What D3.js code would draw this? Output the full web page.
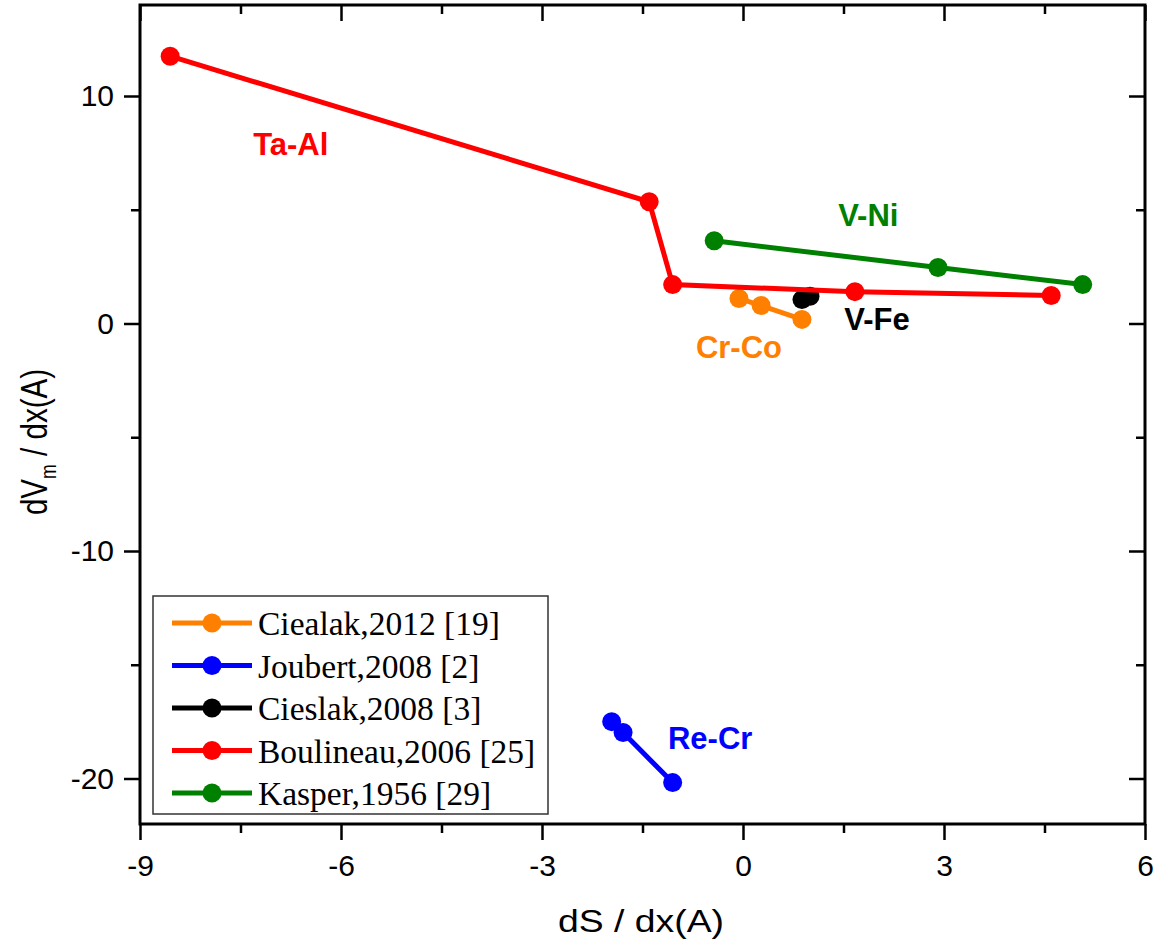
<!DOCTYPE html>
<html>
<head>
<meta charset="utf-8">
<script src="https://cdn.jsdelivr.net/npm/d3@7"></script>
<style>
	body { margin: 0; background: #fff; }
	svg { display: block; }
	.tick text { font-family: "Liberation Sans", Arial, sans-serif; }
</style>
</head>
<body>
<svg id="chart" width="1163" height="944"></svg>
<script>
// data
var ciealakX = [-0.06, 0.27, 0.88];
var ciealakY = [1.10, 0.79, 0.18];
var joubertX = [-1.96, -1.79, -1.05];
var joubertY = [-17.5, -17.98, -20.18];
var cieslakX = [0.88, 1.0];
var cieslakY = [1.05, 1.2];
var boulineauX = [-8.55, -1.40, -1.05, 1.67, 4.6];
var boulineauY = [11.75, 5.35, 1.71, 1.40, 1.23];
var kasperX = [-0.43, 2.91, 5.07];
var kasperY = [3.64, 2.46, 1.71];

var xTicks = [-9, -6, -3, 0, 3, 6];
var yTicks = [-20, -10, 0, 10];
var xMinor = [-7.5, -4.5, -1.5, 1.5, 4.5];
var yMinor = [-15, -5, 5];

var series = [
	{ name: "Ciealak,2012 [19]", color: "#ff8000", x: ciealakX, y: ciealakY },
	{ name: "Joubert,2008 [2]", color: "#0000ff", x: joubertX, y: joubertY },
	{ name: "Cieslak,2008 [3]", color: "#000000", x: cieslakX, y: cieslakY },
	{ name: "Boulineau,2006 [25]", color: "#ff0000", x: boulineauX, y: boulineauY },
	{ name: "Kasper,1956 [29]", color: "#008000", x: kasperX, y: kasperY }
];

// alloy labels next to the curves (x centre, y baseline)
var labels = [
	{ text: "Ta-Al", color: "#ff0000", x: -6.75, y: 7.41 },
	{ text: "V-Ni", color: "#008000", x: 1.87, y: 4.29 },
	{ text: "V-Fe", color: "#000000", x: 2.0, y: -0.29 },
	{ text: "Cr-Co", color: "#ff8000", x: -0.06, y: -1.52 },
	{ text: "Re-Cr", color: "#0000ff", x: -0.49, y: -18.7 }
];

var margin = {top: 5, left: 140},
	width = 1005,
	height = 819;

var svg = d3.select("#chart");
var g = svg.append("g").attr("transform", "translate(" + margin.left + "," + margin.top + ")");

var x = d3.scaleLinear().domain([-9, 6]).range([0, width]);
var y = d3.scaleLinear().domain([-22, 14]).range([height, 0]);

// plain hyphen for negatives, like the original
var fmt = function(d) { return String(d); };

// axes: outward ticks bottom/left, inward ticks top/right
function styleAxis(sel) {
	sel.select(".domain").remove();
	sel.selectAll(".tick line").attr("stroke", "#000").attr("stroke-width", 2.5);
	sel.selectAll(".tick text").attr("font-size", 30).attr("fill", "#000");
}
g.append("g").attr("transform", "translate(0," + height + ")")
	.call(d3.axisBottom(x).tickValues(xTicks).tickSize(16).tickPadding(15).tickFormat(fmt))
	.call(styleAxis);
g.append("g").attr("transform", "translate(0," + height + ")")
	.call(d3.axisBottom(x).tickValues(xMinor).tickSize(9).tickFormat(""))
	.call(styleAxis);
g.append("g")
	.call(d3.axisLeft(y).tickValues(yTicks).tickSize(16).tickPadding(10).tickFormat(fmt))
	.call(styleAxis);
g.append("g")
	.call(d3.axisLeft(y).tickValues(yMinor).tickSize(9).tickFormat(""))
	.call(styleAxis);
g.append("g")
	.call(d3.axisTop(x).tickValues(xTicks).tickSize(-16).tickFormat(""))
	.call(styleAxis);
g.append("g")
	.call(d3.axisTop(x).tickValues(xMinor).tickSize(-9).tickFormat(""))
	.call(styleAxis);
g.append("g").attr("transform", "translate(" + width + ",0)")
	.call(d3.axisRight(y).tickValues(yTicks).tickSize(-16).tickFormat(""))
	.call(styleAxis);
g.append("g").attr("transform", "translate(" + width + ",0)")
	.call(d3.axisRight(y).tickValues(yMinor).tickSize(-9).tickFormat(""))
	.call(styleAxis);

g.append("rect")
	.attr("width", width).attr("height", height)
	.attr("fill", "none").attr("stroke", "#000").attr("stroke-width", 3);

// series
var line = d3.line().x(function(d) { return x(d[0]); }).y(function(d) { return y(d[1]); });
series.forEach(function(s) {
	var pts = s.x.map(function(v, i) { return [v, s.y[i]]; });
	g.append("path").datum(pts)
		.attr("d", line)
		.attr("fill", "none")
		.attr("stroke", s.color)
		.attr("stroke-width", 5);
	g.selectAll(null).data(pts).enter().append("circle")
		.attr("cx", function(d) { return x(d[0]); })
		.attr("cy", function(d) { return y(d[1]); })
		.attr("r", 9.5)
		.attr("fill", s.color);
});

g.selectAll(".lbl").data(labels).enter().append("text")
	.attr("class", "lbl")
	.attr("x", function(d) { return x(d.x); })
	.attr("y", function(d) { return y(d.y); })
	.attr("text-anchor", "middle")
	.attr("font-family", "'Liberation Sans', Arial, sans-serif")
	.attr("font-weight", "bold")
	.attr("font-size", 31)
	.attr("fill", function(d) { return d.color; })
	.text(function(d) { return d.text; });

// legend
var legend = svg.append("g").attr("transform", "translate(153,596)");
legend.append("rect")
	.attr("width", 395).attr("height", 218)
	.attr("fill", "#fff").attr("stroke", "#333").attr("stroke-width", 1.5);
var rows = legend.selectAll(".row").data(series).enter().append("g")
	.attr("transform", function(d, i) { return "translate(0," + (27 + i * 42.5) + ")"; });
rows.append("line")
	.attr("x1", 19).attr("x2", 99)
	.attr("stroke", function(d) { return d.color; })
	.attr("stroke-width", 5);
rows.append("circle")
	.attr("cx", 59).attr("r", 9.5)
	.attr("fill", function(d) { return d.color; });
rows.append("text")
	.attr("x", 105).attr("y", 12)
	.attr("font-family", "'Liberation Serif', 'Times New Roman', serif")
	.attr("font-size", 33.5)
	.attr("fill", "#000")
	.text(function(d) { return d.name; });

// axis titles
svg.append("text")
	.attr("x", 641).attr("y", 932)
	.attr("text-anchor", "middle")
	.attr("font-family", "'Liberation Sans', Arial, sans-serif")
	.attr("font-size", 31)
	.attr("textLength", 166)
	.attr("lengthAdjust", "spacingAndGlyphs")
	.text("dS / dx(A)");
// y title is squeezed along its length in the original
var yt = svg.append("text")
	.attr("transform", "translate(47,442) rotate(-90) scale(0.8,1)")
	.attr("text-anchor", "middle")
	.attr("font-family", "'Liberation Sans', Arial, sans-serif")
	.attr("font-size", 37);
yt.append("tspan").text("dV");
yt.append("tspan").attr("font-size", 22).attr("dy", 9).text("m");
yt.append("tspan").attr("dy", -9).text("  / dx(A)");
</script>
</body>
</html>
